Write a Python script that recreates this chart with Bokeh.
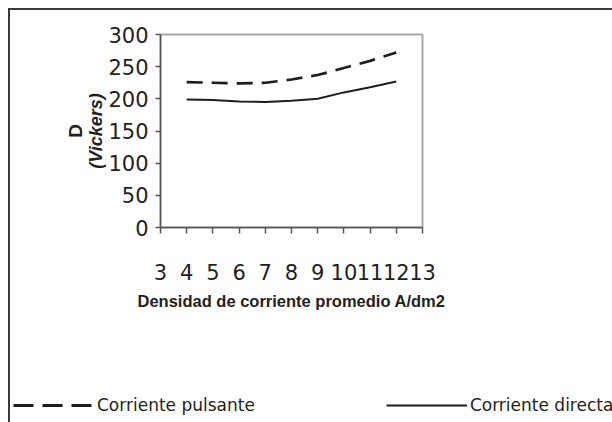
from bokeh.plotting import figure
from bokeh.models import Range1d, FixedTicker, Legend, LegendItem, Title
from bokeh.layouts import column
from bokeh.embed import file_html
from bokeh.resources import INLINE

# ---- data ----
x_vals = [4, 5, 6, 7, 8, 9, 10, 11, 12]
pulsante = [226, 225, 224, 225, 230, 237, 248, 259, 272]
directa = [199, 198, 196, 195, 197, 200, 210, 218, 227]
x_ticks = [3, 4, 5, 6, 7, 8, 9, 10, 11, 12, 13]
y_ticks = [0, 50, 100, 150, 200, 250, 300]
x_title = "Densidad de corriente promedio A/dm2"
y_title_1 = "D"
y_title_2 = "(Vickers)"
label_pulsante = "Corriente pulsante"
label_directa = "Corriente directa"

FONT = "DejaVu Sans"
FONT2 = "Liberation Sans"
TXT = "#231f20"
LINE = "#1e1e1e"

p = figure(width=602, height=372, output_backend="svg", toolbar_location=None,
           x_range=Range1d(3, 13), y_range=Range1d(0, 300),
           min_border_left=150, min_border_right=190,
           min_border_top=24, min_border_bottom=155)
p.frame_align = False
p.background_fill_color = "white"
p.border_fill_color = "white"
p.outline_line_color = "#a8a8a8"
p.outline_line_width = 2
p.xgrid.visible = False
p.ygrid.visible = False

p.line(x_vals, pulsante, line_color=LINE, line_width=2.7, line_dash="16 9")
p.line(x_vals, directa, line_color=LINE, line_width=2)

for ax in (p.xaxis[0], p.yaxis[0]):
    ax.axis_line_color = "#555555"
    ax.axis_line_width = 1.5
    ax.major_tick_line_color = "#555555"
    ax.major_tick_line_width = 1.5
    ax.major_tick_in = 0
    ax.minor_tick_line_color = None
    ax.major_label_text_font = FONT
    ax.major_label_text_font_size = "21px"
    ax.major_label_text_color = TXT
    ax.axis_label_text_font = FONT2
    ax.axis_label_text_color = TXT

p.xaxis[0].ticker = FixedTicker(ticks=x_ticks)
p.xaxis[0].major_tick_out = 6
p.xaxis[0].major_label_standoff = 30
p.xaxis[0].axis_label = x_title
p.xaxis[0].axis_label_text_font_style = "bold"
p.xaxis[0].axis_label_text_font_size = "16.5px"
p.xaxis[0].axis_label_standoff = 9

p.yaxis[0].ticker = FixedTicker(ticks=y_ticks)
p.yaxis[0].major_tick_out = 5
p.yaxis[0].major_label_standoff = 7
p.yaxis[0].axis_label = y_title_2
p.yaxis[0].axis_label_text_font_style = "bold italic"
p.yaxis[0].axis_label_text_font_size = "18px"
p.yaxis[0].axis_label_standoff = -1

t = Title(text=y_title_1, align="center", text_font=FONT2, text_font_size="19px",
          text_font_style="bold", text_color=TXT, standoff=-5, offset=0)
p.add_layout(t, "left")

# legend strip below the chart (its own frame covers the whole strip)
pl = figure(width=602, height=40, output_backend="svg", toolbar_location=None,
            x_range=Range1d(0, 1), y_range=Range1d(0, 1),
            min_border=0, min_border_left=0, min_border_right=0,
            min_border_top=0, min_border_bottom=0)
pl.frame_align = False
pl.axis.visible = False
pl.xgrid.visible = False
pl.ygrid.visible = False
pl.outline_line_color = None
pl.background_fill_color = "white"
pl.border_fill_color = "white"
# same series, lying outside this strip's ranges: only their legend samples show
lr1 = pl.line(x_vals, pulsante, line_color=LINE, line_width=3, line_dash="20 9")
lr2 = pl.line(x_vals, directa, line_color=LINE, line_width=2)

legend = Legend(items=[LegendItem(label=label_pulsante, renderers=[lr1]),
                       LegendItem(label=label_directa, renderers=[lr2])],
                orientation="horizontal", location=(3, 7),
                padding=0, margin=0, spacing=131, glyph_width=81, glyph_height=20,
                label_height=20, label_standoff=3, border_line_color=None,
                background_fill_alpha=0, label_text_font=FONT,
                label_text_font_size="17px", label_text_color=TXT)
pl.add_layout(legend)

layout = column(p, pl, spacing=0)
layout.styles = {"margin-left": "8px", "margin-top": "8px",
                 "border-left": "2px solid #3a3a3a", "border-top": "2px solid #3a3a3a"}

open("out.html", "w").write(file_html(layout, INLINE))
